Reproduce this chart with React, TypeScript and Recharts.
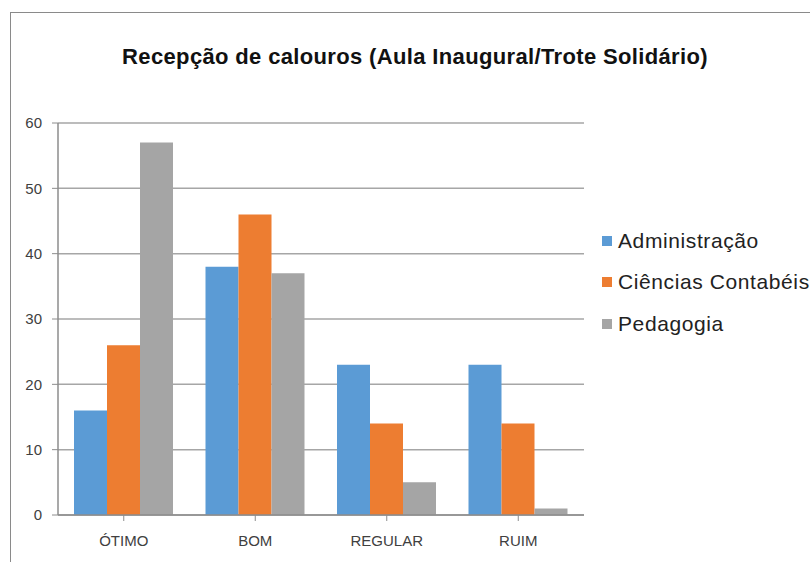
import { BarChart, Bar, XAxis, YAxis, CartesianGrid } from "recharts";

const categories = ["ÓTIMO", "BOM", "REGULAR", "RUIM"];
const administracao = [16, 38, 23, 23];
const cienciasContabeis = [26, 46, 14, 14];
const pedagogia = [57, 37, 5, 1];
const yTicks = [0, 10, 20, 30, 40, 50, 60];

const series = [
  { key: "adm", name: "Administração", color: "#5B9BD5" },
  { key: "cc", name: "Ciências Contabéis", color: "#ED7D31" },
  { key: "ped", name: "Pedagogia", color: "#A5A5A5" },
];

const data = categories.map((cat, i) => ({
  cat,
  adm: administracao[i],
  cc: cienciasContabeis[i],
  ped: pedagogia[i],
}));

const tickFont = { fill: "#404040", fontSize: 15, fontFamily: "'Liberation Sans', Arial, sans-serif" };

function LegendBox() {
  return (
    <div
      style={{
        position: "absolute",
        left: 602,
        top: 220,
        fontFamily: "'Liberation Sans', Arial, sans-serif",
        fontSize: 21,
        letterSpacing: 0.6,
        color: "#222",
      }}
    >
      {series.map((s) => (
        <div key={s.key} style={{ display: "flex", alignItems: "center", height: 41.5, whiteSpace: "nowrap" }}>
          <span style={{ width: 10, height: 10, background: s.color, marginRight: 6, display: "inline-block" }} />
          {s.name}
        </div>
      ))}
    </div>
  );
}

export default function App() {
  return (
    <div style={{ position: "absolute", left: 0, top: 0, width: 810, height: 562, background: "#fff", overflow: "hidden" }}>
      <div
        style={{
          position: "absolute",
          left: 10,
          top: 12,
          width: 820,
          height: 600,
          borderLeft: "1.5px solid #8a8a8a",
          borderTop: "1.5px solid #8a8a8a",
        }}
      />
      <div
        style={{
          position: "absolute",
          left: 10,
          width: 810,
          top: 44,
          textAlign: "center",
          fontFamily: "'Liberation Sans', Arial, sans-serif",
          fontWeight: "bold",
          fontSize: 22,
          letterSpacing: 0.35,
          color: "#111",
        }}
      >
        Recepção de calouros (Aula Inaugural/Trote Solidário)
      </div>
      <BarChart
        width={810}
        height={562}
        data={data}
        margin={{ top: 123, right: 226, bottom: 0, left: 0 }}
        barCategoryGap={16}
        barGap={0}
        style={{ position: "absolute", left: 0, top: 0 }}
      >
        <CartesianGrid vertical={false} stroke="#a6a6a6" strokeWidth={1.5} />
        <XAxis
          dataKey="cat"
          height={47}
          tick={tickFont}
          tickSize={6}
          tickMargin={14}
          axisLine={{ stroke: "#8c8c8c", strokeWidth: 1.5 }}
          tickLine={{ stroke: "#8c8c8c" }}
          interval={0}
        />
        <YAxis
          width={58}
          domain={[0, 60]}
          ticks={yTicks}
          tick={tickFont}
          tickSize={6}
          tickMargin={10}
          axisLine={{ stroke: "#8c8c8c", strokeWidth: 1.5 }}
          tickLine={{ stroke: "#8c8c8c" }}
        />
        {series.map((s) => (
          <Bar key={s.key} dataKey={s.key} name={s.name} fill={s.color} isAnimationActive={false} />
        ))}
      </BarChart>
      <LegendBox />
    </div>
  );
}
